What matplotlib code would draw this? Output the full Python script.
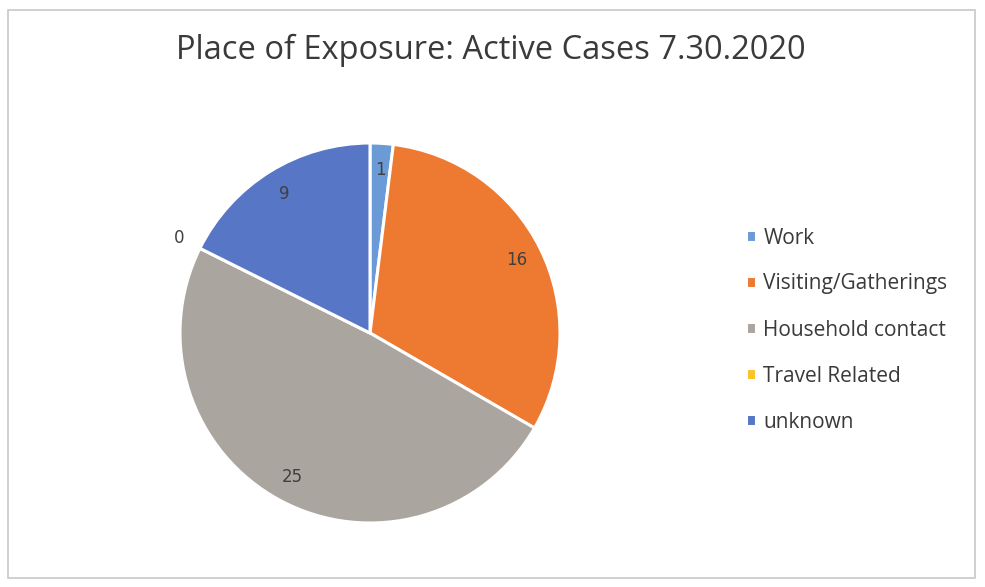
import numpy as np
import matplotlib.pyplot as plt
from matplotlib.patches import Rectangle

# Place of exposure counts
categories = ["Work", "Visiting/Gatherings", "Household contact", "Travel Related", "unknown"]
cases = [1, 16, 25, 0, 9]
colors = ["#6a9bd6", "#ee7a32", "#aba59f", "#fdc22a", "#5876c6"]

fig = plt.figure(figsize=(9.85, 5.87), dpi=100)
fig.patch.set_facecolor("white")

# thin frame around the chart area, like the Excel chart border
fig.add_artist(Rectangle((8 / 985, 9 / 587), 967 / 985, 568 / 587, transform=fig.transFigure,
                         fill=False, edgecolor="#c8c8c8", linewidth=1.2))

fig.text(0.498, 1 - 50 / 587, "Place of Exposure: Active Cases 7.30.2020", ha="center", va="center",
         fontsize=23.5, color="#3a3a3a", family=["Open Sans", "DejaVu Sans"])

# pie centre at about (370, 333) px, radius 190 px
cx, cy, r = 370 / 985, 1 - 333 / 587, 190
ax = fig.add_axes([cx - r / 985, cy - r / 587, 2 * r / 985, 2 * r / 587])
wedges, _ = ax.pie(cases, colors=colors, startangle=90, counterclock=False, radius=1,
                   wedgeprops=dict(edgecolor="white", linewidth=2.2))
ax.set_xlim(-1, 1)
ax.set_ylim(-1, 1)
ax.set_aspect("equal")
ax.axis("off")

# data labels: inside for non-zero slices, just outside for the zero slice
total = sum(cases)
start = 0
for v in cases:
    mid = start + v / 2
    ang = np.deg2rad(90 - mid / total * 360)
    dist = 0.86 if v > 0 else 1.12
    ax.text(dist * np.cos(ang), dist * np.sin(ang), str(v), ha="center", va="center",
            fontsize=12, color="#404040")
    start += v

fig.legend(wedges, categories, loc="center left", bbox_to_anchor=(727 / 985, 1 - 330 / 587),
           frameon=False, handlelength=0.5, handleheight=0.5,
           handletextpad=0.35, labelspacing=1.2, labelcolor="#3a3a3a",
           prop=dict(family=["Open Sans", "DejaVu Sans"], size=15))

fig.savefig("out.png", dpi=100, facecolor="white")
